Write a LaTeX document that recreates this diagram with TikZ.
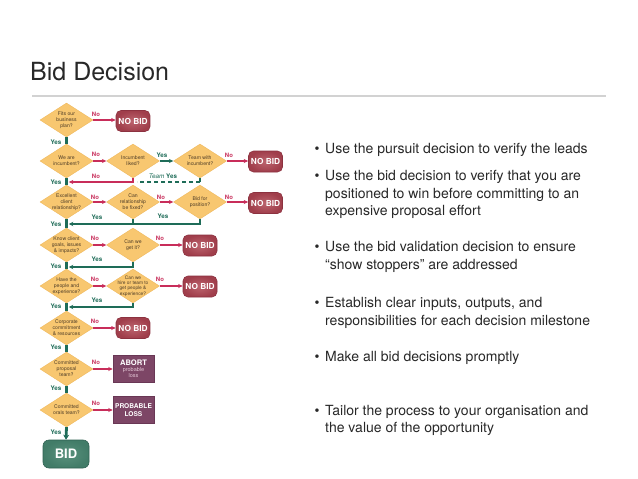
\documentclass[tikz,border=0pt]{standalone}
\usepackage{fontspec}
\setmainfont{TeX Gyre Heros}
\usetikzlibrary{shapes.geometric,arrows.meta,calc}
\definecolor{diaF}{RGB}{248,199,112}
\definecolor{diaE}{RGB}{238,180,85}
\definecolor{diaT}{RGB}{75,58,38}
\definecolor{nbF}{RGB}{160,62,75}
\definecolor{nbI}{RGB}{188,100,110}
\definecolor{nbE}{RGB}{140,50,64}
\definecolor{plumF}{RGB}{125,70,102}
\definecolor{plumE}{RGB}{105,55,85}
\definecolor{plumT}{RGB}{228,200,215}
\definecolor{bidF}{RGB}{66,124,104}
\definecolor{bidI}{RGB}{90,145,125}
\definecolor{bidE}{RGB}{48,98,82}
\definecolor{noR}{RGB}{200,45,90}
\definecolor{yesG}{RGB}{30,108,88}
\definecolor{txt}{RGB}{40,40,40}
\definecolor{rule}{RGB}{210,210,210}
\newcommand{\smallpink}[1]{\textcolor{plumT}{\fontsize{5.5}{5.8}\selectfont #1}}
\newcommand{\abortword}{\textbf{\fontsize{7.6}{7.6}\selectfont ABORT}}
\tikzset{
  dia/.style={diamond, draw=diaE, fill=diaF, minimum width=53pt, minimum height=34pt, inner sep=0pt, line width=0.3pt},
  dtext/.style={font=\fontsize{5.1}{6}\selectfont, text=diaT, align=center, inner sep=0pt},
  nobid/.style={rectangle, rounded corners=5pt, inner color=nbI, outer color=nbF, draw=nbE, line width=0.6pt, minimum width=34pt, minimum height=21pt, inner sep=0pt, text=white, font=\bfseries\fontsize{8.3}{8.5}\selectfont},
  lossbox/.style={rectangle, fill=plumF, draw=plumE, line width=0.5pt, minimum width=41pt, minimum height=27pt, inner sep=0pt, align=center, text=white},
  bidbox/.style={rectangle, rounded corners=6pt, inner color=bidI, outer color=bidF, draw=bidE, line width=0.6pt, minimum width=46pt, minimum height=28pt, inner sep=0pt, text=white, font=\bfseries\fontsize{13}{13}\selectfont},
  noarr/.style={draw=noR, line width=1.3pt, -{Stealth[length=4.5pt,width=4pt]}},
  yesarr/.style={draw=yesG, line width=1.8pt, -{Stealth[length=4.5pt,width=4.5pt]}},
  yesthin/.style={draw=yesG, line width=1.3pt, -{Stealth[length=4.5pt,width=4pt]}},
  yesline/.style={draw=yesG, line width=1.8pt},
  teamdash/.style={draw=yesG, line width=1.6pt, dash pattern=on 4pt off 3pt},
  trunk/.style={draw=yesG, line width=2.8pt},
  trunkarr/.style={draw=yesG, line width=2.8pt, -{Stealth[length=5pt,width=6pt]}},
  nolab/.style={text=noR, font=\bfseries\fontsize{6}{6}\selectfont, inner sep=0pt},
  yeslab/.style={text=yesG, font=\bfseries\fontsize{6.3}{6.3}\selectfont, inner sep=0pt},
  bul/.style={anchor=base west, inner sep=0pt, font=\fontsize{14}{14}\selectfont, text=txt},
  bdot/.style={anchor=base, inner sep=0pt, font=\fontsize{14}{14}\selectfont, text=txt}
}
\begin{document}
\begin{tikzpicture}[x=1pt,y=-1pt]
\fill[white] (0,0) rectangle (638,479);
\useasboundingbox (0,0) rectangle (638,479);

% title and rule
\node[anchor=base west, inner sep=0pt, font=\fontsize{25}{25}\selectfont, text=txt] (title) at (30,80) {Bid Decision};
\draw[rule, line width=1.5pt] (32,96) -- (606,96);

% ---------- diamonds ----------
\node[dia, label={[dtext]center:Fits our\\business\\plan?}] (d1) at (66.5,120) {};
\node[dia, label={[dtext]center:We are\\incumbent?}] (d2) at (66.5,161) {};
\node[dia, label={[dtext]center:Incumbent\\liked?}] (d2b) at (133,161) {};
\node[dia, label={[dtext]center:Team with\\incumbent?}] (d2c) at (200,161) {};
\node[dia, label={[dtext]center:Excellent\\client\\relationship?}] (d3) at (66.5,202) {};
\node[dia, label={[dtext]center:Can\\relationship\\be fixed?}] (d3b) at (133,202) {};
\node[dia, label={[dtext]center:Bid for\\position?}] (d3c) at (200,202) {};
\node[dia, label={[dtext]center:Know client\\goals, issues\\\& impacts?}] (d4) at (66.5,245) {};
\node[dia, label={[dtext]center:Can we\\get it?}] (d4b) at (133,245) {};
\node[dia, label={[dtext]center:Have the\\people and\\experience?}] (d5) at (66.5,286) {};
\node[dia, label={[dtext, font=\fontsize{4.8}{5.4}\selectfont]center:Can we\\hire or team to\\get people \&\\experience?}] (d5b) at (133,286) {};
\node[dia, label={[dtext]center:Corporate\\commitment\\\& resources}] (d6) at (66.5,328) {};
\node[dia, label={[dtext]center:Committed\\proposal\\team?}] (d7) at (66.5,369) {};
\node[dia, label={[dtext]center:Committed\\orals team?}] (d8) at (66.5,410) {};

% ---------- end boxes ----------
\node[nobid] (nb1) at (133,121) {NO BID};
\node[nobid] (nb2) at (265.5,161.5) {NO BID};
\node[nobid] (nb3) at (265.5,203) {NO BID};
\node[nobid] (nb4) at (200,245.5) {NO BID};
\node[nobid] (nb5) at (200,286.5) {NO BID};
\node[nobid] (nb6) at (133,328) {NO BID};
\node[lossbox, font=\fontsize{5.5}{5.8}\selectfont] (ab) at (133.5,369) {\abortword\\[0.3pt]\smallpink{probable}\\\smallpink{loss}};
\node[lossbox, font=\bfseries\fontsize{6.6}{8.6}\selectfont] (pl) at (133.5,410) {PROBABLE\\LOSS};
\node[bidbox] (bid) at (66,454) {BID};

% ---------- trunk ----------
\draw[trunk] (d1.south) -- (d2.north);
\draw[trunk] (d2.south) -- (d3.north);
\draw[trunk] (d3.south) -- (d4.north);
\draw[trunk] (d4.south) -- (d5.north);
\draw[trunk] (d5.south) -- (d6.north);
\draw[trunk] (d6.south) -- (d7.north);
\draw[trunk] (d7.south) -- (d8.north);
\draw[trunkarr] (d8.south) -- (bid.north);

% ---------- No arrows ----------
\draw[noarr] (d1.east) -- (d1.east -| nb1.west);
\draw[noarr] (d2.east) -- (d2b.west);
\draw[noarr] (d2c.east) -- (d2c.east -| nb2.west);
\draw[noarr] (d3.east) -- (d3b.west);
\draw[noarr] (d3b.east) -- (d3c.west);
\draw[noarr] (d3c.east) -- (d3c.east -| nb3.west);
\draw[noarr] (d4.east) -- (d4b.west);
\draw[noarr] (d4b.east) -- (d4b.east -| nb4.west);
\draw[noarr] (d5.east) -- (d5b.west);
\draw[noarr] (d5b.east) -- (d5b.east -| nb5.west);
\draw[noarr] (d6.east) -- (nb6.west);
\draw[noarr] (d7.east) -- (ab.west);
\draw[noarr] (d8.east) -- (pl.west);

% ---------- Yes arrows / returns ----------
\draw[yesthin] (d2b.east) -- (d2c.west);
\coordinate (r2) at (68.8,182);
\coordinate (ty) at (137,182);
\draw[noarr] (d2b.south) |- (r2);
\draw[yesline, line width=1.6pt] (d2c.south) -- (d2c.south |- ty);
\draw[teamdash] (d2c.south |- ty) -- (ty);

\coordinate (r3) at (68.8,224);
\draw[yesarr] (d3c.south) |- (r3);
\draw[yesline] (d3b.south) -- (d3b.south |- r3);
\coordinate (r4) at (68.8,267);
\draw[yesarr] (d4b.south) |- (r4);
\coordinate (r5) at (68.8,307);
\draw[yesarr] (d5b.south) |- (r5);

% ---------- labels ----------
\node[nolab] (l1) at (96,114) {No};
\node[yeslab] (y1) at (56,142) {Yes};
\node[nolab] (l2) at (96,154) {No};
\node[yeslab] (y2b) at (162,155) {Yes};
\node[nolab] (l2c) at (229,155) {No};
\node[nolab] (l2r) at (96,176) {No};
\node[yeslab, font=\fontsize{6.3}{6.3}\selectfont] (team) at (163,176) {\textit{Team} \textbf{Yes}};
\node[yeslab] (y2) at (56,182) {Yes};
\node[nolab] (l3) at (95,197) {No};
\node[nolab] (l3b) at (161,197) {No};
\node[nolab] (l3c) at (229,197) {No};
\node[yeslab] (y3r) at (97,217) {Yes};
\node[yeslab] (y3c) at (163,216) {Yes};
\node[yeslab] (y3) at (56,224) {Yes};
\node[nolab] (l4) at (95,238) {No};
\node[nolab] (l4b) at (160,238) {No};
\node[yeslab] (y4r) at (97,259) {Yes};
\node[yeslab] (y4) at (56,266) {Yes};
\node[nolab] (l5) at (95,279) {No};
\node[nolab] (l5b) at (160,279) {No};
\node[yeslab] (y5r) at (97,300) {Yes};
\node[yeslab] (y5) at (56,306) {Yes};
\node[nolab] (l6) at (95,321) {No};
\node[yeslab] (y6) at (56,347) {Yes};
\node[nolab] (l7) at (96,362) {No};
\node[yeslab] (y7) at (56,388) {Yes};
\node[nolab] (l8) at (96,403) {No};
\node[yeslab] (y8) at (56,432) {Yes};

% ---------- bullets ----------
\node[bdot] (o1) at (317,153) {•};
\node[bul] (t1a) at (325,153) {Use the pursuit decision to verify the leads};
\node[bdot] (o2) at (317,180) {•};
\node[bul] (t2a) at (325,180) {Use the bid decision to verify that you are};
\node[bul] (t2b) at (325,198) {positioned to win before committing to an};
\node[bul] (t2c) at (325,215) {expensive proposal effort};
\node[bdot] (o3) at (317,251) {•};
\node[bul] (t3a) at (325,251) {Use the bid validation decision to ensure};
\node[bul] (t3b) at (325,269) {“show stoppers” are addressed};
\node[bdot] (o4) at (317,307) {•};
\node[bul] (t4a) at (325,307) {Establish clear inputs, outputs, and};
\node[bul] (t4b) at (325,325) {responsibilities for each decision milestone};
\node[bdot] (o5) at (317,361) {•};
\node[bul] (t5a) at (325,361) {Make all bid decisions promptly};
\node[bdot] (o6) at (317,415) {•};
\node[bul] (t6a) at (325,415) {Tailor the process to your organisation and};
\node[bul] (t6b) at (325,432) {the value of the opportunity};
\end{tikzpicture}
\end{document}
